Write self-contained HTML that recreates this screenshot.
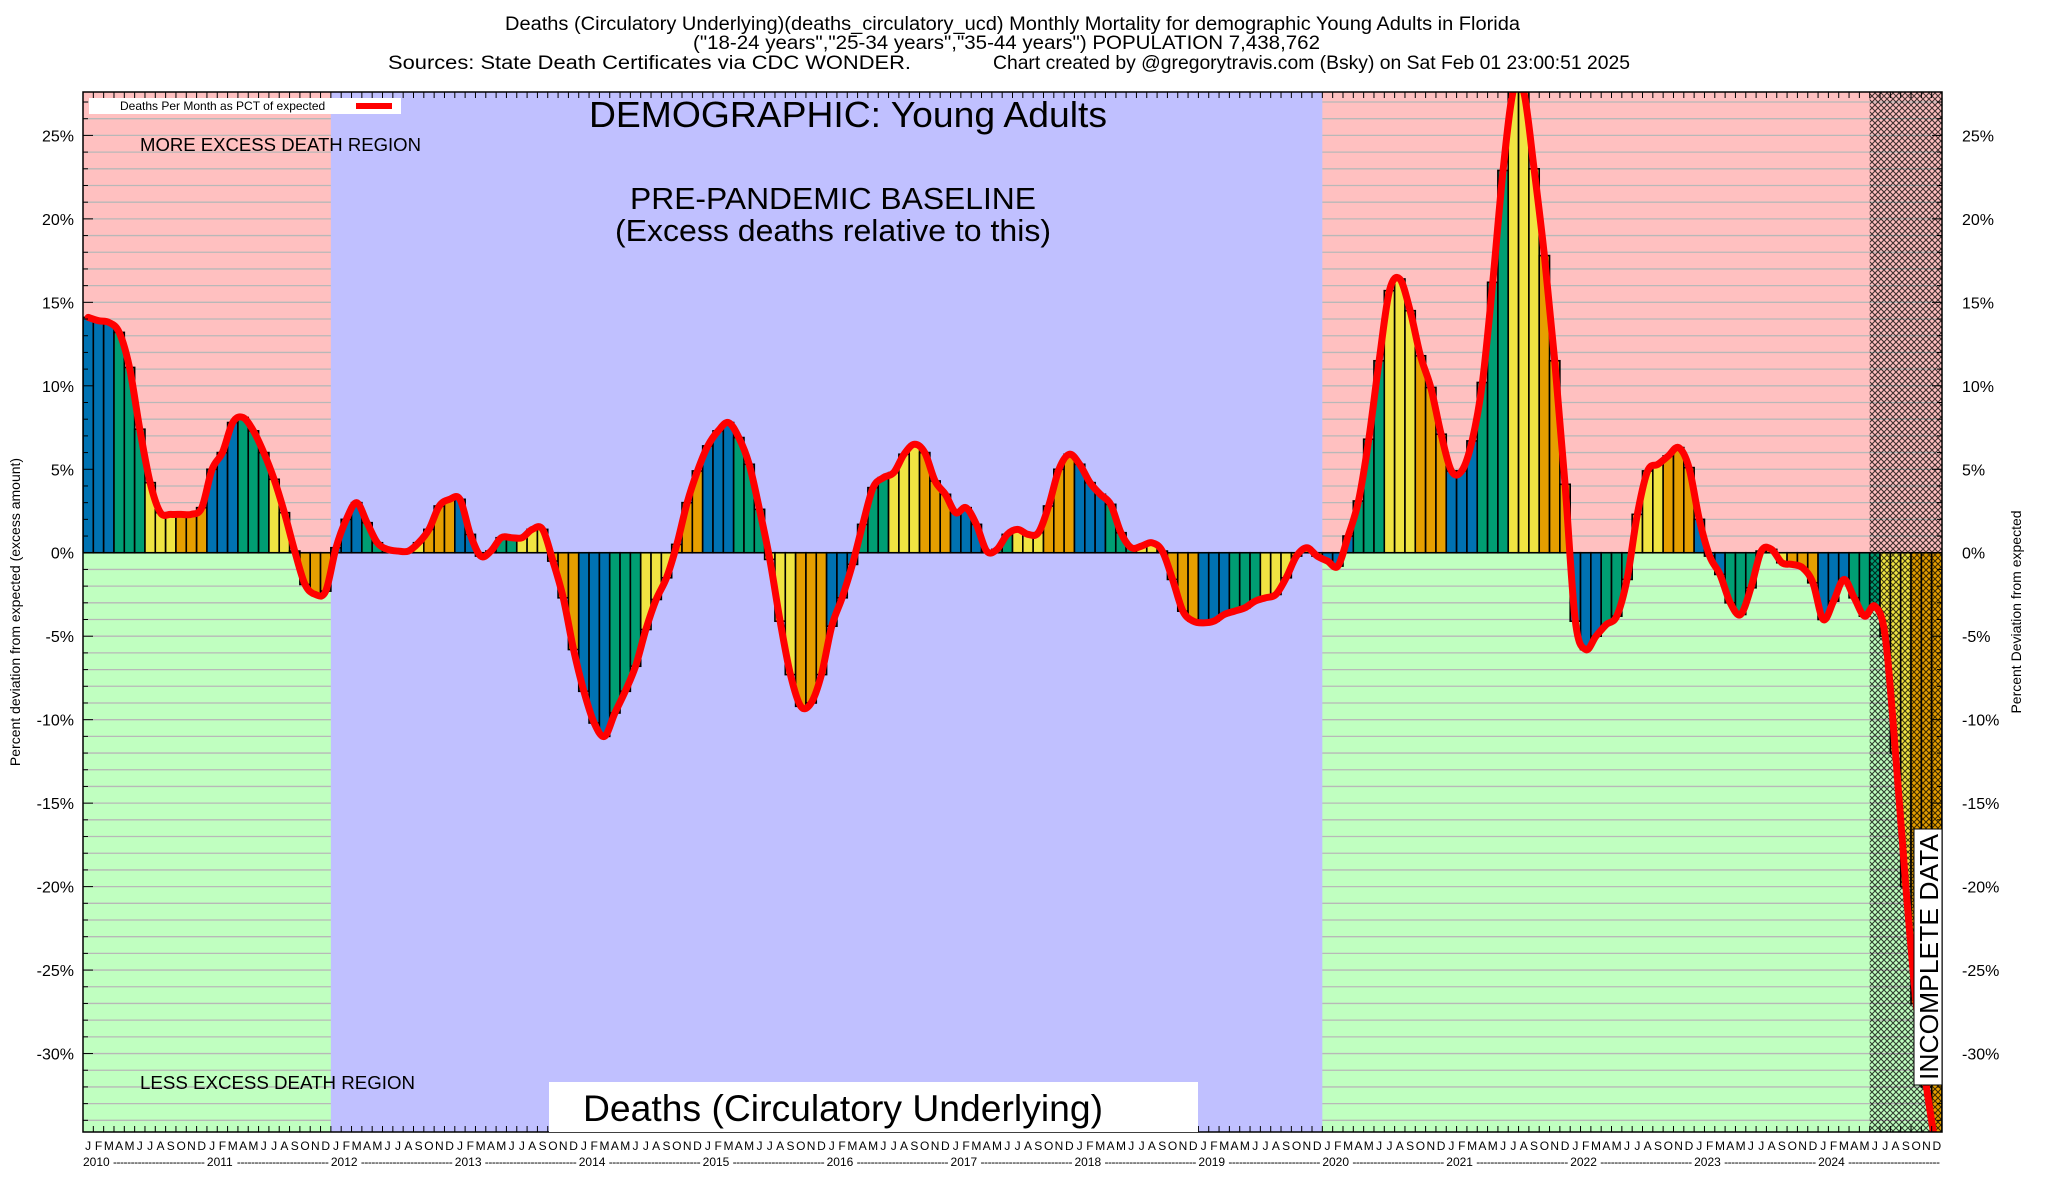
<!DOCTYPE html>
<html><head><meta charset="utf-8"><style>
html,body{margin:0;padding:0;background:#fff;}
svg{display:block;font-family:"Liberation Sans",sans-serif;}
</style></head><body>
<svg id="chart" width="2048" height="1200" viewBox="0 0 2048 1200" xmlns="http://www.w3.org/2000/svg">
<defs>
<pattern id="hatch" patternUnits="userSpaceOnUse" width="6" height="6">
<path d="M0,0 L6,6 M6,0 L0,6" stroke="#000" stroke-width="1.1" opacity="0.75"/>
</pattern>
<clipPath id="plotclip"><rect x="83" y="92" width="1859" height="1040"/></clipPath>
</defs>
<g id="title" font-size="19" fill="#000">
<text x="505" y="30" textLength="1015" lengthAdjust="spacingAndGlyphs">Deaths (Circulatory Underlying)(deaths_circulatory_ucd) Monthly Mortality for demographic Young Adults in Florida</text>
<text x="693" y="49" textLength="627" lengthAdjust="spacingAndGlyphs">("18-24 years","25-34 years","35-44 years") POPULATION 7,438,762</text>
<text x="388" y="69" textLength="523" lengthAdjust="spacingAndGlyphs">Sources: State Death Certificates via CDC WONDER.</text>
<text x="993" y="69" textLength="637" lengthAdjust="spacingAndGlyphs">Chart created by @gregorytravis.com (Bsky) on Sat Feb 01 23:00:51 2025</text>
</g>
<g id="bg" clip-path="url(#plotclip)"></g>
<g id="bars" clip-path="url(#plotclip)"></g>
<rect id="hatchrect" fill="url(#hatch)"/>
<g id="line" clip-path="url(#plotclip)"></g>
<g id="ticks"></g>
<rect x="83" y="92" width="1859" height="1040" fill="none" stroke="#000" stroke-width="1.5"/>
<g id="annot">
<rect x="89" y="98" width="312" height="16" fill="#fff"/>
<text x="120" y="110" font-size="12">Deaths Per Month as PCT of expected</text>
<rect x="356" y="103" width="36" height="6" fill="#f00"/>
<text x="848" y="127" font-size="36" textLength="518" lengthAdjust="spacingAndGlyphs" text-anchor="middle">DEMOGRAPHIC: Young Adults</text>
<text x="140" y="151" font-size="18" textLength="281" lengthAdjust="spacingAndGlyphs">MORE EXCESS DEATH REGION</text>
<text x="833" y="209" font-size="31" textLength="406" lengthAdjust="spacingAndGlyphs" text-anchor="middle">PRE-PANDEMIC BASELINE</text>
<text x="833" y="241" font-size="31" textLength="436" lengthAdjust="spacingAndGlyphs" text-anchor="middle">(Excess deaths relative to this)</text>
<text x="140" y="1089" font-size="18" textLength="275" lengthAdjust="spacingAndGlyphs">LESS EXCESS DEATH REGION</text>
<rect x="549" y="1082" width="649" height="50" fill="#fff"/>
<text x="583" y="1121" font-size="37" textLength="520" lengthAdjust="spacingAndGlyphs">Deaths (Circulatory Underlying)</text>
<g transform="translate(1928,957) rotate(-90)">
<rect x="-128" y="-14" width="256" height="28" fill="#fff" stroke="#000" stroke-width="1"/>
<text x="0" y="10" font-size="26" text-anchor="middle" textLength="246" lengthAdjust="spacingAndGlyphs">INCOMPLETE DATA</text>
</g>
<text transform="translate(20,612) rotate(-90)" font-size="14" text-anchor="middle">Percent deviation from expected (excess amount)</text>
<text transform="translate(2021,612) rotate(-90)" font-size="14" text-anchor="middle">Percent Deviation from expected</text>
</g>
<g id="xlabels" font-size="12"></g>
<g id="ylabels" font-size="16"></g>
</svg>
<script>
const years = [2010,2011,2012,2013,2014,2015,2016,2017,2018,2019,2020,2021,2022,2023,2024];
const monthLetters = ["J","F","M","A","M","J","J","A","S","O","N","D"];
const values = [
14.1,13.9,13.8,13.2,11.1,7.4,4.2,2.4,2.3,2.3,2.3,2.7,
5,6,7.8,8.1,7.3,6,4.4,2.4,0.1,-1.9,-2.5,-2.3,
0.3,2,3,1.8,0.6,0.2,0.1,0.1,0.6,1.4,2.8,3.2,
3.2,1.1,-0.2,0.1,0.9,0.9,0.9,1.4,1.4,-0.5,-2.7,-5.8,
-8.3,-10.2,-11,-9.6,-8.3,-6.8,-4.6,-2.8,-1.5,0.5,3,4.9,
6.4,7.3,7.8,6.9,5.3,2.6,-0.4,-4.1,-7.3,-9.2,-9,-7.3,
-4.4,-2.7,-0.7,1.7,3.9,4.5,4.8,5.9,6.5,6,4.3,3.5,
2.4,2.7,1.7,0.1,0.2,1.1,1.4,1.1,1.2,2.8,5,5.9,
5.3,4.2,3.5,2.9,1.2,0.3,0.4,0.6,0.1,-1.6,-3.5,-4.1,
-4.2,-4.1,-3.7,-3.5,-3.3,-2.9,-2.7,-2.5,-1.5,-0.2,0.3,-0.2,
-0.5,-0.8,1,3.1,6.8,11.5,15.7,16.4,14.5,11.8,9.9,7.1,
4.9,4.9,6.7,10.2,16.2,22.9,27.7,27.6,23,17.8,11.5,4.1,
-4.1,-5.8,-5,-4.3,-3.8,-1.6,2.3,4.9,5.3,5.8,6.3,5.1,
2,-0.2,-1.3,-3,-3.7,-2.1,0.1,0.2,-0.6,-0.7,-0.9,-1.8,
-4,-2.9,-1.6,-2.7,-3.8,-3.2,-5,-12,-20,-27,-32,-36
];
const yTicks = [25,20,15,10,5,0,-5,-10,-15,-20,-25,-30];
const baselineStart = 24;
const baselineEnd = 120;
const incompleteStart = 173;
const yMin = -34.7, yMax = 27.6;

const NS = "http://www.w3.org/2000/svg";
const PL = 83, PR = 1942, PT = 92, PB = 1132;
const N = years.length * 12;
const mw = (PR - PL) / N;
function xOf(i){ return PL + i * mw; }
function yOf(v){ return PB - (v - yMin) / (yMax - yMin) * (PB - PT); }
function mk(tag, attrs, parent){
  const e = document.createElementNS(NS, tag);
  for (const k in attrs) e.setAttribute(k, attrs[k]);
  parent.appendChild(e);
  return e;
}
const y0 = yOf(0);
const bg = document.getElementById("bg");
let r;
r = mk("rect",{x:PL,y:PT,width:PR-PL,height:y0-PT,fill:"#ffc0c0"},bg);


r = mk("rect",{x:PL,y:y0,width:PR-PL,height:PB-y0,fill:"#c0ffc0"},bg);


for (let p = Math.ceil(yMin); p <= Math.floor(yMax); p++) {
  if (p === 0) continue;
  const g = mk("line",{x1:PL,x2:PR,y1:yOf(p),y2:yOf(p),stroke:"#b8b8b8","stroke-width":1.3},bg);
  
  
}
r = mk("rect",{x:xOf(baselineStart),y:PT,width:xOf(baselineEnd)-xOf(baselineStart),height:PB-PT,fill:"#c0c0ff"},bg);



const colors = ["#0072b2","#009e73","#f0e442","#e69f00"];
const bars = document.getElementById("bars");
values.forEach((v,i)=>{
  const top = Math.min(yOf(v), y0), h = Math.abs(yOf(v) - y0);
  const b = mk("rect",{x:xOf(i),y:top,width:mw,height:Math.max(h,0.5),fill:colors[Math.floor((i%12)/3)],stroke:"#000","stroke-width":1.6},bars);
  
  
});
mk("line",{x1:PL,x2:PR,y1:y0,y2:y0,stroke:"#000","stroke-width":1.5},bars);

const hr = document.getElementById("hatchrect");
hr.setAttribute("x", xOf(incompleteStart));
hr.setAttribute("y", PT);
hr.setAttribute("width", PR - xOf(incompleteStart));
hr.setAttribute("height", PB - PT);

const pts = values.map((v,i)=>[xOf(i)+mw/2, yOf(v)]);
let d = "M" + pts[0][0] + "," + pts[0][1];
for (let i=0;i<pts.length-1;i++){
  const p0 = pts[Math.max(i-1,0)], p1 = pts[i], p2 = pts[i+1], p3 = pts[Math.min(i+2,pts.length-1)];
  const c1x = p1[0] + (p2[0]-p0[0])/6, c1y = p1[1] + (p2[1]-p0[1])/6;
  const c2x = p2[0] - (p3[0]-p1[0])/6, c2y = p2[1] - (p3[1]-p1[1])/6;
  d += " C" + c1x + "," + c1y + " " + c2x + "," + c2y + " " + p2[0] + "," + p2[1];
}
const ln = mk("path",{d:d,fill:"none",stroke:"#ff0000","stroke-width":7,"stroke-linejoin":"round","stroke-linecap":"round"},document.getElementById("line"));



const ticks = document.getElementById("ticks");
for (let i=0;i<=N;i++){
  mk("line",{x1:xOf(i),x2:xOf(i),y1:PT,y2:PT+6,stroke:"#000","stroke-width":1},ticks);
  mk("line",{x1:xOf(i),x2:xOf(i),y1:PB,y2:PB-6,stroke:"#000","stroke-width":1},ticks);
}
for (let p = Math.ceil(yMin); p <= Math.floor(yMax); p++) {
  const big = p % 5 === 0 ? 10 : 5;
  mk("line",{x1:PL,x2:PL+big,y1:yOf(p),y2:yOf(p),stroke:"#000","stroke-width":1},ticks);
  mk("line",{x1:PR,x2:PR-big,y1:yOf(p),y2:yOf(p),stroke:"#000","stroke-width":1},ticks);
}
const yl = document.getElementById("ylabels");
yTicks.forEach(t=>{
  const a = mk("text",{x:74,y:yOf(t)+6,"text-anchor":"end"},yl);
  a.textContent = t + "%";
  
  
  const b = mk("text",{x:1962,y:yOf(t)+6},yl);
  b.textContent = t + "%";
  
  
});
const xl = document.getElementById("xlabels");
for (let i=0;i<N;i++){
  const t = mk("text",{x:xOf(i)+mw/2,y:1150,"text-anchor":"middle"},xl);
  t.textContent = monthLetters[i%12];
  
  
}
years.forEach((yr,k)=>{
  const x = xOf(k*12);
  const t = mk("text",{x:x,y:1166},xl);
  t.textContent = yr;
  
  
  const ds = mk("text",{x:x+30,y:1166,textLength:mw*12-32,lengthAdjust:"spacing"},xl);
  ds.textContent = "--------------------------";
  
  
});
</script>
</body></html>
